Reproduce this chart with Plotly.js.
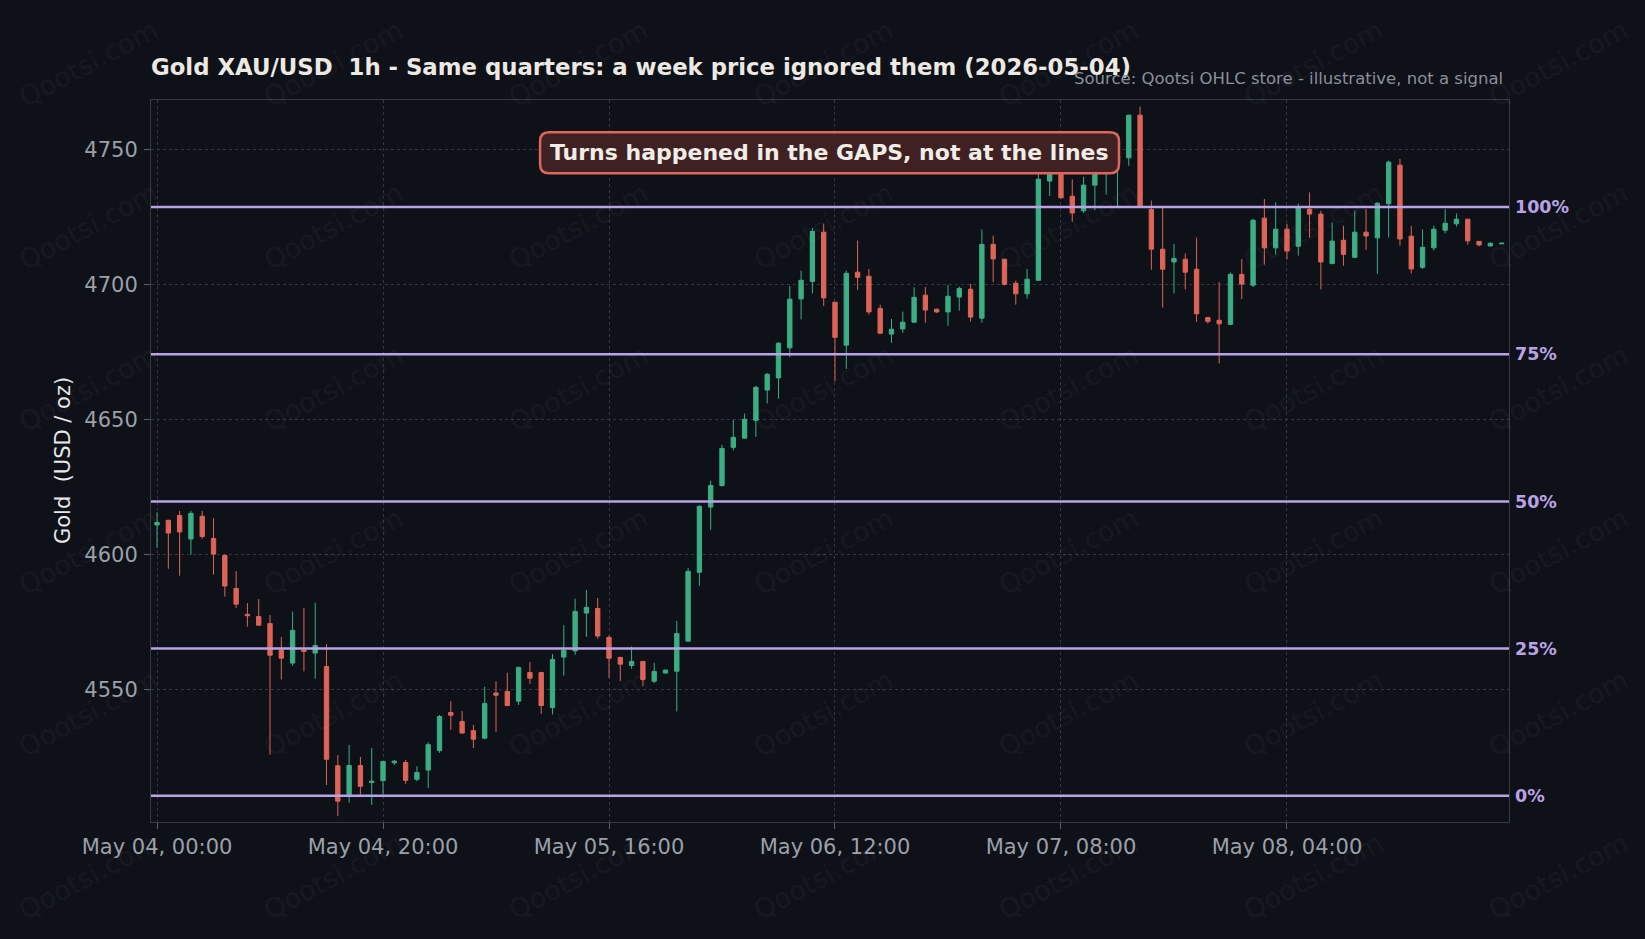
<!DOCTYPE html>
<html>
<head>
<meta charset="utf-8">
<script src="https://cdn.plot.ly/plotly-3.0.1.min.js"></script>
<style>
  html, body { margin: 0; padding: 0; background: #0e1117; }
  #chart { width: 1645px; height: 939px; }
</style>
</head>
<body>
<div id="chart"></div>
<script>
// ---- Data (hourly candles starting 2026-05-04 00:00) ----
const startDate = '2026-05-04T00:00:00Z';
const openP = [
  4611.0,4612.7,4614.5,4605.8,4614.2,4606.0,4599.7,4587.5,4577.9,4577.1,
  4574.5,4564.7,4559.9,4564.7,4563.6,4558.6,4521.9,4511.2,4522.0,4515.7,
  4516.4,4523.0,4523.1,4516.9,4520.3,4527.5,4541.6,4538.3,4534.9,4532.1,
  4548.8,4549.4,4545.8,4556.4,4556.4,4543.4,4562.1,4564.4,4578.4,4580.1,
  4569.4,4562.0,4559.0,4560.5,4553.2,4556.2,4556.9,4568.0,4593.5,4617.6,
  4625.6,4639.7,4643.1,4649.7,4660.9,4665.4,4676.5,4694.6,4701.1,4719.3,
  4693.4,4677.5,4704.5,4703.0,4691.1,4681.6,4683.5,4686.0,4696.0,4690.8,
  4689.8,4695.3,4698.2,4687.5,4714.8,4709.3,4700.4,4696.5,4701.5,4738.2,
  4745.0,4732.6,4727.2,4736.7,4744.0,4745.5,4746.8,4762.6,4727.7,4713.0,
  4708.3,4709.3,4705.6,4687.7,4686.7,4685.2,4703.7,4699.7,4724.5,4713.5,
  4720.4,4714.1,4727.8,4726.0,4707.7,4716.3,4710.0,4719.3,4717.2,4729.8,
  4744.1,4717.8,4706.3,4713.5,4720.0,4722.4,4724.1,4715.9,4714.2,4715.0
];
const highP = [
  4615.7,4612.9,4616.2,4616.2,4616.2,4613.5,4600.1,4593.9,4582.1,4583.6,
  4577.7,4569.5,4578.9,4580.2,4582.2,4566.9,4525.9,4529.6,4525.2,4528.5,
  4523.5,4524.1,4524.1,4521.7,4530.6,4540.7,4545.8,4542.2,4537.0,4551.1,
  4553.2,4556.3,4558.6,4560.3,4556.7,4563.2,4573.9,4583.7,4587.0,4584.0,
  4570.1,4562.2,4566.0,4560.6,4560.0,4557.4,4575.5,4595.1,4618.2,4627.4,
  4640.7,4649.9,4652.2,4662.5,4667.3,4678.6,4699.4,4705.1,4720.9,4722.5,
  4693.6,4705.1,4716.2,4705.7,4692.5,4687.2,4689.9,4698.9,4699.0,4691.0,
  4699.8,4699.2,4700.2,4720.3,4718.0,4709.5,4701.4,4705.7,4740.8,4745.0,
  4748.0,4738.8,4739.8,4748.0,4750.0,4755.8,4762.6,4765.8,4731.0,4729.1,
  4715.0,4711.4,4717.3,4688.0,4700.9,4704.4,4709.4,4724.3,4731.6,4730.3,
  4722.4,4729.9,4734.0,4727.2,4722.9,4721.7,4727.3,4727.8,4730.5,4745.8,
  4746.4,4721.6,4720.3,4721.7,4727.8,4726.2,4724.2,4716.0,4715.5,4715.4
];
const lowP = [
  4602.5,4594.8,4592.2,4600.0,4605.9,4592.6,4584.5,4580.3,4573.4,4573.7,
  4526.0,4553.8,4558.9,4556.8,4554.1,4514.8,4503.3,4508.3,4511.2,4507.4,
  4511.2,4522.2,4515.2,4516.2,4513.7,4526.7,4535.2,4533.9,4528.5,4531.8,
  4534.4,4543.9,4544.4,4552.2,4541.1,4540.9,4555.2,4562.9,4569.6,4568.9,
  4554.4,4553.2,4557.8,4551.3,4552.5,4556.1,4542.0,4567.9,4588.5,4609.2,
  4625.1,4638.6,4643.0,4643.6,4655.9,4657.7,4673.1,4687.0,4696.6,4692.0,
  4664.1,4668.7,4698.0,4688.8,4681.6,4678.4,4682.1,4685.7,4685.8,4689.4,
  4684.7,4690.3,4686.2,4685.8,4700.8,4699.6,4692.5,4694.7,4701.5,4732.7,
  4731.8,4723.2,4726.4,4727.4,4733.2,4728.9,4743.9,4728.6,4705.4,4691.4,
  4696.6,4698.1,4686.1,4685.5,4670.7,4685.0,4694.6,4699.0,4707.3,4711.0,
  4709.2,4710.6,4717.3,4698.1,4707.4,4706.9,4709.8,4712.8,4703.9,4717.3,
  4714.3,4704.0,4705.7,4712.5,4718.8,4721.4,4714.7,4714.1,4714.1,4714.9
];
const closeP = [
  4611.9,4608.0,4608.4,4615.3,4606.7,4600.2,4588.4,4581.7,4577.4,4573.9,
  4562.8,4561.7,4572.0,4564.2,4566.4,4524.3,4508.8,4522.0,4514.3,4516.2,
  4523.5,4523.6,4516.5,4519.4,4529.7,4540.1,4540.6,4534.0,4531.7,4544.9,
  4548.0,4544.2,4558.3,4554.3,4544.2,4561.2,4564.6,4579.0,4580.5,4569.9,
  4561.7,4559.5,4560.5,4553.8,4556.8,4557.3,4570.8,4593.8,4617.9,4625.6,
  4639.3,4643.4,4650.1,4661.9,4666.7,4678.2,4694.5,4701.5,4719.6,4695.0,
  4680.4,4704.1,4702.6,4689.8,4681.9,4683.4,4686.0,4695.2,4690.5,4689.8,
  4695.6,4698.5,4687.9,4714.8,4709.4,4700.0,4696.5,4701.9,4738.9,4742.0,
  4732.0,4726.4,4736.7,4744.0,4747.0,4747.5,4762.6,4728.6,4713.0,4705.6,
  4709.6,4704.5,4689.1,4686.3,4685.4,4703.7,4700.1,4723.7,4713.5,4720.4,
  4712.3,4728.3,4726.0,4708.3,4716.0,4711.1,4719.3,4717.9,4730.0,4745.2,
  4716.8,4705.7,4713.7,4720.4,4722.6,4724.1,4716.1,4714.6,4715.2,4715.2
];

// Quarter levels (from the prior week's range)
const quarterLevels = [4510.8, 4565.25, 4619.7, 4674.15, 4728.6];
const quarterLabels = ['0%', '25%', '50%', '75%', '100%'];

// Axis ticks
const yTickVals = [4550, 4600, 4650, 4700, 4750];

// Text
const titleText = 'Gold XAU/USD\u00a0 1h - Same quarters: a week price ignored them (2026-05-04)';
const sourceText = 'Source: Qootsi OHLC store - illustrative, not a signal';
const calloutText = 'Turns happened in the GAPS, not at the lines';
const yTitleText = 'Gold\u00a0 (USD / oz)';
const watermarkText = 'Qootsi.com';

// ---- Build times (hourly) ----
const t0 = Date.parse(startDate);
const times = openP.map((_, i) => new Date(t0 + i * 3600000).toISOString().slice(0, 16).replace('T', ' '));

// ---- Style ----
const BG = '#0e1117';
const UP = '#3cae83';
const DOWN = '#dd6456';
const PURPLE = '#b9a3e6';
const GRID = '#33373e';
const TICK = '#9aa0a9';
const FONT = 'DejaVu Sans, Verdana, sans-serif';

const candles = {
  type: 'candlestick',
  x: times, open: openP, high: highP, low: lowP, close: closeP,
  increasing: { line: { color: UP, width: 1 }, fillcolor: UP },
  decreasing: { line: { color: DOWN, width: 1 }, fillcolor: DOWN },
  whiskerwidth: 0,
  hoverinfo: 'skip',
  showlegend: false,
  xaxis: 'x', yaxis: 'y'
};

const dummy = {
  type: 'scatter', mode: 'markers',
  x: [times[0]], y: [quarterLevels[0]],
  marker: { opacity: 0 }, hoverinfo: 'skip', showlegend: false,
  xaxis: 'x', yaxis: 'y2'
};

const yRange = [4501.1, 4768.2];

const shapes = quarterLevels.map(v => ({
  type: 'line', xref: 'paper', x0: 0, x1: 1, yref: 'y', y0: v, y1: v,
  line: { color: PURPLE, width: 2.5 }, layer: 'above'
}));

// Rounded callout box (paper coordinates)
(function () {
  const x0 = 0.2865, x1 = 0.7128, y0 = 0.8985, y1 = 0.9552;
  const rx = 0.0066, ry = 0.0125;
  const p = `M ${x0 + rx},${y1} L ${x1 - rx},${y1} Q ${x1},${y1} ${x1},${y1 - ry} ` +
            `L ${x1},${y0 + ry} Q ${x1},${y0} ${x1 - rx},${y0} L ${x0 + rx},${y0} ` +
            `Q ${x0},${y0} ${x0},${y0 + ry} L ${x0},${y1 - ry} Q ${x0},${y1} ${x0 + rx},${y1} Z`;
  shapes.push({ type: 'path', xref: 'paper', yref: 'paper', path: p,
    fillcolor: '#3f2124', line: { color: '#de665b', width: 2.5 }, layer: 'above' });
})();

const annotations = [];
// Watermarks (pixel grid converted to paper coords)
const L = 151, T = 99.7, W = 1358, H = 721.8;
const wmX = [88, 333, 578, 823, 1068, 1313, 1558];
const wmY = [63, 226, 388, 551, 713, 876];
wmY.forEach(py => wmX.forEach(px => {
  annotations.push({
    xref: 'paper', yref: 'paper', x: (px - L) / W, y: (T + H - py) / H,
    xanchor: 'center', yanchor: 'middle',
    text: watermarkText, showarrow: false, textangle: -28,
    font: { family: FONT, size: 27, color: 'rgba(255,255,255,0.055)' }
  });
}));
annotations.push({
  xref: 'paper', yref: 'paper', x: 0.9967, y: 1.0291, xanchor: 'right', yanchor: 'middle',
  text: sourceText, showarrow: false,
  font: { family: FONT, size: 16.5, color: '#8b909a' }
});
annotations.push({
  xref: 'paper', yref: 'paper', x: 0.4997, y: 0.9268, xanchor: 'center', yanchor: 'middle',
  text: calloutText, showarrow: false,
  font: { family: FONT, size: 22, color: '#f0ece6', weight: 'bold' }
});
annotations.push({
  xref: 'paper', yref: 'paper', x: -0.0648, y: 0.5, xanchor: 'center', yanchor: 'middle',
  text: yTitleText, showarrow: false, textangle: -90,
  font: { family: FONT, size: 21, color: '#e8e8e8' }
});

const layout = {
  width: 1645, height: 939,
  paper_bgcolor: BG, plot_bgcolor: BG,
  margin: { l: 151, r: 136, t: 100, b: 117, pad: 0 },
  font: { family: FONT, color: TICK },
  boxgap: 0.45,
  title: {
    text: titleText, x: 151 / 1645, xanchor: 'left', xref: 'container',
    y: 1 - 67 / 939, yanchor: 'middle', yref: 'container',
    font: { family: FONT, size: 22.8, color: '#ece9e3', weight: 'bold' }
  },
  xaxis: {
    type: 'date',
    range: ['2026-05-03 23:28', '2026-05-08 23:39'],
    rangeslider: { visible: false },
    tick0: '2026-05-04 00:00', dtick: 20 * 3600000,
    tickformat: '%b %d, %H:%M',
    ticks: 'outside', ticklen: 6, tickcolor: '#5a5f68',
    ticklabelstandoff: 0,
    tickfont: { family: FONT, size: 21, color: TICK },
    showgrid: true, gridcolor: GRID, griddash: 'dot', gridwidth: 1,
    showline: true, linecolor: '#363a42', linewidth: 1, mirror: true,
    zeroline: false, fixedrange: true
  },
  yaxis: {
    range: yRange,
    tickvals: yTickVals,
    ticks: 'outside', ticklen: 6, tickcolor: '#5a5f68',
    ticklabelstandoff: 2,
    tickfont: { family: FONT, size: 21, color: TICK },
    showgrid: true, gridcolor: GRID, griddash: 'dot', gridwidth: 1,
    showline: true, linecolor: '#363a42', linewidth: 1, mirror: true,
    zeroline: false, fixedrange: true
  },
  yaxis2: {
    overlaying: 'y', side: 'right', range: yRange,
    tickvals: quarterLevels, ticktext: quarterLabels,
    ticks: '',
    ticklabelstandoff: 5,
    tickfont: { family: FONT, size: 17.5, color: PURPLE, weight: 'bold' },
    showgrid: false, showline: false, zeroline: false, fixedrange: true
  },
  shapes: shapes,
  annotations: annotations,
  showlegend: false
};

Plotly.newPlot('chart', [candles, dummy], layout, { displayModeBar: false, staticPlot: true });
</script>
</body>
</html>
